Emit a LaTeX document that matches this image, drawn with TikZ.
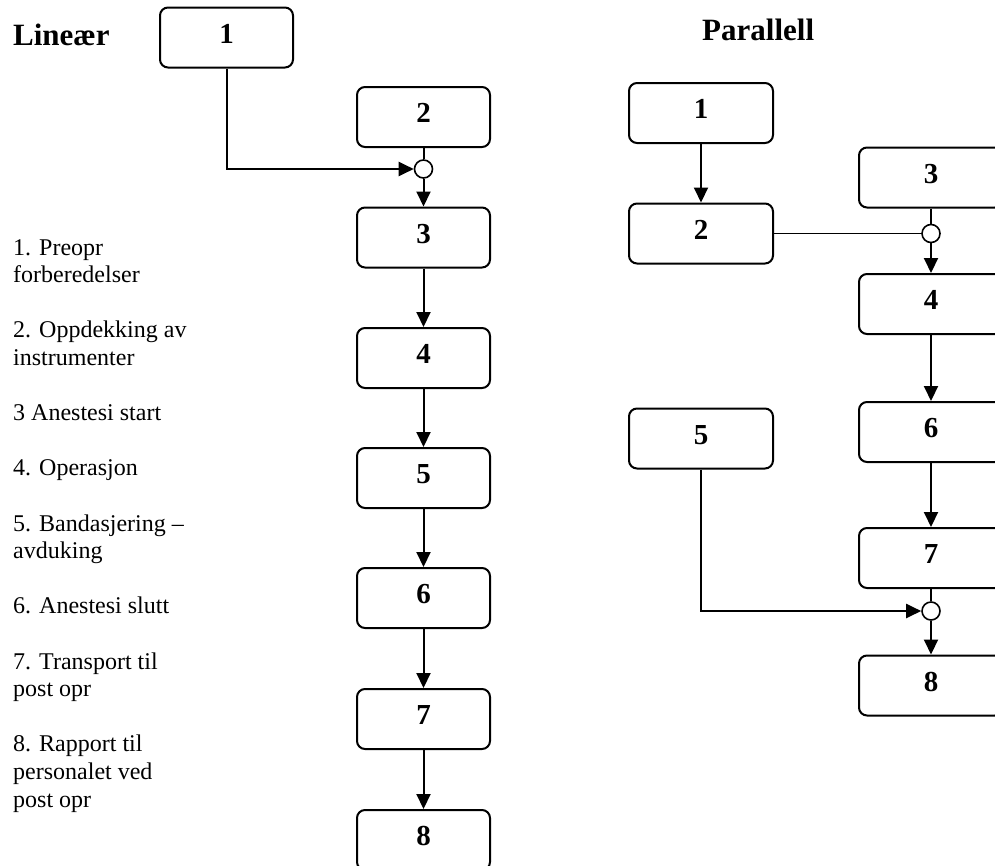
\documentclass[tikz,border=0pt]{standalone}
\usepackage{fontspec}
\setmainfont{Liberation Serif}
\usetikzlibrary{arrows.meta}
\tikzset{
  box/.style={draw, line width=2pt, rounded corners=8pt, inner sep=0pt,
    minimum height=60pt, text height=19.6pt, text depth=8pt,
    font=\fontsize{29}{32}\selectfont\bfseries},
  lbox/.style={box, minimum width=133pt},
  rbox/.style={box, minimum width=144pt},
  junc/.style={circle, draw, fill=white, line width=1.6pt, minimum size=18pt, inner sep=0pt},
  ln/.style={line width=2pt},
  thinln/.style={line width=1.4pt},
  arr/.style={line width=2pt, -{Triangle[length=15pt,width=14pt]}},
  ttl/.style={anchor=base west, inner sep=0pt, font=\fontsize{31}{34}\selectfont\bfseries},
  tx/.style={anchor=base west, inner sep=0pt, font=\fontsize{24}{28}\selectfont}
}
\begin{document}
\begin{tikzpicture}[x=1pt,y=-1pt]
\path[use as bounding box] (0,0) rectangle (995,865);
\clip (0,0) rectangle (995,865);
% titles
\node[ttl] (tL) at (13,45) {Lineær};
\node[ttl] (tP) at (702,40) {Parallell};
% legend
\node[tx] (t1a) at (13,255) {1. Preopr};
\node[tx] (t1b) at (13,282.6) {forberedelser};
\node[tx] (t2a) at (13,337.8) {2. Oppdekking av};
\node[tx] (t2b) at (13,365.4) {instrumenter};
\node[tx] (t3) at (13,420.6) {3 Anestesi start};
\node[tx] (t4) at (13,475.8) {4. Operasjon};
\node[tx] (t5a) at (13,531) {5. Bandasjering –};
\node[tx] (t5b) at (13,558.6) {avduking};
\node[tx] (t6) at (13,613.8) {6. Anestesi slutt};
\node[tx] (t7a) at (13,669) {7. Transport til};
\node[tx] (t7b) at (13,696.6) {post opr};
\node[tx] (t8a) at (13,751.8) {8. Rapport til};
\node[tx] (t8b) at (13,779.4) {personalet ved};
\node[tx] (t8c) at (13,807) {post opr};
% linear column
\node[lbox] (L1) at (226.5,37.5) {1};
\node[lbox] (L2) at (423.5,117) {2};
\node[lbox] (L3) at (423.5,237.5) {3};
\node[lbox] (L4) at (423.5,358) {4};
\node[lbox] (L5) at (423.5,478) {5};
\node[lbox] (L6) at (423.5,598) {6};
\node[lbox] (L7) at (423.5,719) {7};
\node[lbox] (L8) at (423.5,840) {8};
\node[junc] (jL) at (423.5,169) {};
\draw[arr] (L1.south) |- (jL.west);
\draw[ln] (L2.south) -- (jL.north);
\draw[arr] (jL.south) -- (L3.north);
\draw[arr] (L3.south) -- (L4.north);
\draw[arr] (L4.south) -- (L5.north);
\draw[arr] (L5.south) -- (L6.north);
\draw[arr] (L6.south) -- (L7.north);
\draw[arr] (L7.south) -- (L8.north);
% parallel
\node[rbox] (R1) at (701,113) {1};
\node[rbox] (R2) at (701,233.5) {2};
\node[rbox] (R5) at (701,438.5) {5};
\node[rbox] (R3) at (931,177.5) {3};
\node[rbox] (R4) at (931,304) {4};
\node[rbox] (R6) at (931,432) {6};
\node[rbox] (R7) at (931,558) {7};
\node[rbox] (R8) at (931,685.5) {8};
\node[junc] (jR1) at (931,233.5) {};
\node[junc] (jR2) at (931,611) {};
\draw[arr] (R1.south) -- (R2.north);
\draw[thinln] (R2.east) -- (jR1.west);
\draw[ln] (R3.south) -- (jR1.north);
\draw[arr] (jR1.south) -- (R4.north);
\draw[arr] (R4.south) -- (R6.north);
\draw[arr] (R6.south) -- (R7.north);
\draw[ln] (R7.south) -- (jR2.north);
\draw[arr] (jR2.south) -- (R8.north);
\draw[arr] (R5.south) |- (jR2.west);
\end{tikzpicture}
\end{document}
